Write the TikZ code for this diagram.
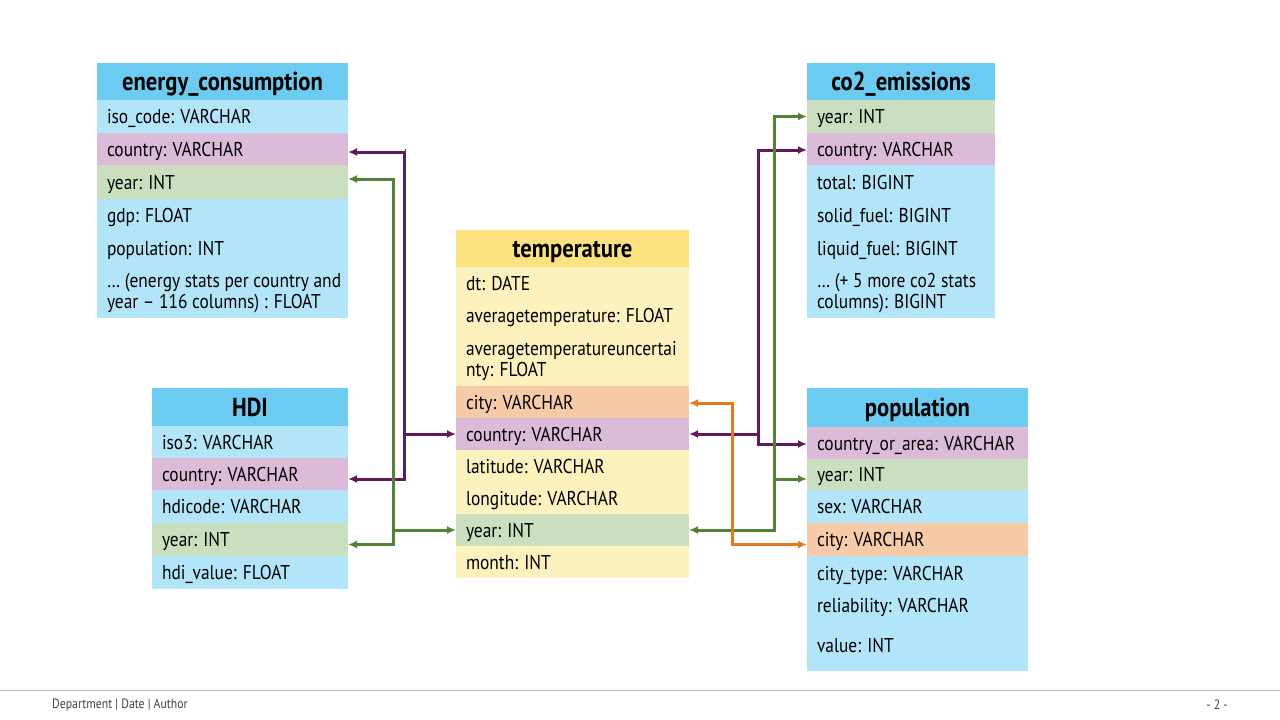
\documentclass[tikz,border=0pt]{standalone}
\usepackage{fontspec}
\setmainfont{PT Sans}[FakeStretch=0.87]
\usetikzlibrary{arrows.meta,calc}
\definecolor{hdrblue}{HTML}{6CCBF0}
\definecolor{rowblue}{HTML}{B2E5F9}
\definecolor{rowpurple}{HTML}{DCBBD8}
\definecolor{rowgreen}{HTML}{C9DFBE}
\definecolor{roworange}{HTML}{F8CBA8}
\definecolor{hdryellow}{HTML}{FCE27E}
\definecolor{rowyellow}{HTML}{FDF1BE}
\definecolor{linepurple}{HTML}{60195A}
\definecolor{linegreen}{HTML}{548235}
\definecolor{lineorange}{HTML}{E4781E}
\definecolor{linenavy}{HTML}{2F386E}
\definecolor{footgrey}{HTML}{BFBFBF}
\definecolor{foottext}{HTML}{404040}
\tikzset{
  rowbox/.style={anchor=north west, inner sep=0pt, outer sep=0pt, draw=none},
  rowtext/.style={inner sep=0pt, outer sep=0pt, align=left, font=\fontsize{20}{21}\selectfont},
  hdrbox/.style={anchor=north west, inner sep=0pt, outer sep=0pt, draw=none},
  hdrtext/.style={inner sep=0pt, anchor=base, font=\fontsize{26}{28}\selectfont\bfseries},
  conn/.style={line width=3pt},
  tip/.style={-{Latex[length=9pt,width=8pt]}},
  tips/.style={{Latex[length=9pt,width=8pt]}-{Latex[length=9pt,width=8pt]}},
  purp/.style={conn, draw=linepurple},
  grn/.style={conn, draw=linegreen},
  org/.style={conn, draw=lineorange},
}
\newcommand\dbrow[7]{%
  \node[rowbox, fill=#6, minimum width=#4pt, minimum height=#5pt] (#1) at (#2,#3) {};
  \node[rowtext, anchor=base west] (#1-t) at ([xshift=10pt,yshift=-7pt]#1.west) {#7};}
\newcommand\dbrowm[7]{%
  \node[rowbox, fill=#6, minimum width=#4pt, minimum height=#5pt] (#1) at (#2,#3) {};
  \node[rowtext, anchor=west] (#1-t) at ([xshift=10pt,yshift=-2pt]#1.west) {#7};}
\begin{document}
\begin{tikzpicture}[x=1pt,y=-1pt]
\useasboundingbox (0,0) rectangle (1280,720);
\fill[white] (0,0) rectangle (1280,720);

% energy_consumption
\node[hdrbox, fill=hdrblue, minimum width=251pt, minimum height=37pt] (ec) at (97,63) {};
\node[hdrtext] (ec-t) at ([yshift=-9pt]ec.center) {energy\_consumption};
\dbrow{ec-iso}{97}{100}{251}{33}{rowblue}{iso\_code: VARCHAR}
\dbrow{ec-country}{97}{133}{251}{32}{rowpurple}{country: VARCHAR}
\dbrow{ec-year}{97}{165}{251}{34}{rowgreen}{year: INT}
\dbrow{ec-gdp}{97}{199}{251}{33}{rowblue}{gdp: FLOAT}
\dbrow{ec-pop}{97}{232}{251}{32}{rowblue}{population: INT}
\dbrowm{ec-more}{97}{264}{251}{54}{rowblue}{… (energy stats per country and\\year – 116 columns) : FLOAT}

% HDI
\node[hdrbox, fill=hdrblue, minimum width=196pt, minimum height=38pt] (hdi) at (152,388) {};
\node[hdrtext] (hdi-t) at ([yshift=-9pt]hdi.center) {HDI};
\dbrow{hdi-iso}{152}{426}{196}{32}{rowblue}{iso3: VARCHAR}
\dbrow{hdi-country}{152}{458}{196}{32}{rowpurple}{country: VARCHAR}
\dbrow{hdi-code}{152}{490}{196}{33}{rowblue}{hdicode: VARCHAR}
\dbrow{hdi-year}{152}{523}{196}{33}{rowgreen}{year: INT}
\dbrow{hdi-value}{152}{556}{196}{33}{rowblue}{hdi\_value: FLOAT}

% temperature
\node[hdrbox, fill=hdryellow, minimum width=233pt, minimum height=37pt] (tc) at (456,230) {};
\node[hdrtext] (tc-t) at ([yshift=-9pt]tc.center) {temperature};
\dbrow{tc-dt}{456}{267}{233}{32}{rowyellow}{dt: DATE}
\dbrow{tc-avg}{456}{299}{233}{33}{rowyellow}{averagetemperature: FLOAT}
\dbrowm{tc-unc}{456}{332}{233}{54}{rowyellow}{averagetemperatureuncertai\\nty: FLOAT}
\dbrow{tc-city}{456}{386}{233}{32}{roworange}{city: VARCHAR}
\dbrow{tc-country}{456}{418}{233}{32}{rowpurple}{country: VARCHAR}
\dbrow{tc-lat}{456}{450}{233}{32}{rowyellow}{latitude: VARCHAR}
\dbrow{tc-lon}{456}{482}{233}{32}{rowyellow}{longitude: VARCHAR}
\dbrow{tc-year}{456}{514}{233}{32}{rowgreen}{year: INT}
\dbrow{tc-month}{456}{546}{233}{32}{rowyellow}{month: INT}

% co2_emissions
\node[hdrbox, fill=hdrblue, minimum width=188pt, minimum height=37pt] (co) at (807,63) {};
\node[hdrtext] (co-t) at ([yshift=-9pt]co.center) {co2\_emissions};
\dbrow{co-year}{807}{100}{188}{33}{rowgreen}{year: INT}
\dbrow{co-country}{807}{133}{188}{32}{rowpurple}{country: VARCHAR}
\dbrow{co-total}{807}{165}{188}{34}{rowblue}{total: BIGINT}
\dbrow{co-solid}{807}{199}{188}{33}{rowblue}{solid\_fuel: BIGINT}
\dbrow{co-liquid}{807}{232}{188}{32}{rowblue}{liquid\_fuel: BIGINT}
\dbrowm{co-more}{807}{264}{188}{54}{rowblue}{… (+ 5 more co2 stats\\columns): BIGINT}

% population
\node[hdrbox, fill=hdrblue, minimum width=221pt, minimum height=39pt] (pp) at (807,388) {};
\node[hdrtext] (pp-t) at ([yshift=-9pt]pp.center) {population};
\dbrow{pp-country}{807}{427}{221}{32}{rowpurple}{country\_or\_area: VARCHAR}
\dbrow{pp-year}{807}{459}{221}{31}{rowgreen}{year: INT}
\dbrow{pp-sex}{807}{490}{221}{33}{rowblue}{sex: VARCHAR}
\dbrow{pp-city}{807}{523}{221}{33}{roworange}{city: VARCHAR}
\dbrow{pp-type}{807}{556}{221}{34}{rowblue}{city\_type: VARCHAR}
\dbrow{pp-rel}{807}{590}{221}{30}{rowblue}{reliability: VARCHAR}
\dbrow{pp-value}{807}{620}{221}{51}{rowblue}{value: INT}

% junction coordinates
\coordinate (lp) at (404,434);
\coordinate (lg) at (393,530);
\coordinate (rp) at (758,434);
\coordinate (rg) at (774,479);
\coordinate (oc) at (732,470);

% left purple
\draw[purp, tips] ($(ec-country.east)+(0,3)$) -| (lp) |- ($(hdi-country.east)+(0,5)$);
\draw[purp, tip] (lp) -- (tc-country.west);
\draw[line width=1.2pt, draw=linenavy] ([xshift=1.6pt]lp |- ec-country.east) -- ([xshift=1.6pt]lp |- hdi-country.east);
% left green
\draw[grn, tips] ($(ec-year.east)+(0,-3)$) -| (lg) |- ($(hdi-year.east)+(0,5)$);
\draw[grn, tip] (lg) -- (tc-year.west);
% right purple
\draw[purp, tips] ($(co-country.west)+(0,1)$) -| (rp) |- ($(pp-country.west)+(0,1)$);
\draw[purp, tip] (rp) -- (tc-country.east);
% right green
\draw[grn, tips] (co-year.west) -| (rg) |- (tc-year.east);
\draw[grn, tip] (rg) -- (rg -| pp-year.west);
% orange
\draw[org, tips] ($(tc-city.east)+(0,1)$) -| (oc) |- ($(pp-city.west)+(0,5)$);

% footer
\coordinate (fl) at (0,690);
\coordinate (fr) at (1280,690);
\draw[footgrey, line width=1pt] (fl) -- (fr);
\node[anchor=west, inner sep=0pt, font=\fontsize{13.5}{15}\selectfont, text=foottext] (foot) at (52,705) {Department | Date | Author};
\node[anchor=center, inner sep=0pt, font=\fontsize{13.5}{15}\selectfont, text=foottext] (page) at (1217,705) {- 2 -};
\end{tikzpicture}
\end{document}
